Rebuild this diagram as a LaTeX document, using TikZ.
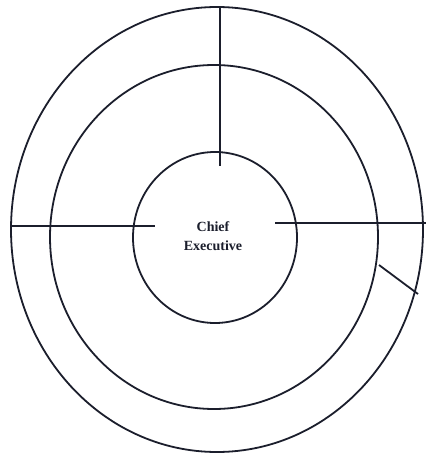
\documentclass[tikz,border=0pt]{standalone}
\usepackage{fontspec}
\setmainfont{Liberation Serif}
\usetikzlibrary{shapes.geometric}
\definecolor{ink}{HTML}{1B1E2C}
\begin{document}
\begin{tikzpicture}[x=1pt,y=-1pt,
  ring/.style={draw=ink, line width=1.8pt, ellipse, inner sep=0pt},
  spoke/.style={draw=ink, line width=1.8pt},
  label/.style={font=\fontsize{14}{19}\selectfont\bfseries, text=ink, align=center, inner sep=0pt}]
\useasboundingbox (0,0) rectangle (426,457);
\fill[white] (0,0) rectangle (426,457);
% rings
\node[ring, minimum width=412pt, minimum height=445pt] (outer) at (217,229.5) {};
\node[ring, minimum width=328pt, minimum height=344pt] (middle) at (214,237) {};
\node[ring, minimum width=164pt, minimum height=171pt] (inner) at (215,237.5) {};
% label
\node[label] (ce) at (213,236) {Chief\\Executive};
% spoke end points
\coordinate (vtop) at (220,7);
\coordinate (vbot) at (220,166);
\coordinate (lout) at (12,226);
\coordinate (lin) at (155,226);
\coordinate (rin) at (275,223);
\coordinate (rout) at (426,223);
\coordinate (sa) at (379,265);
\coordinate (sb) at (418,294);
% spokes
\draw[spoke] (vtop) -- (vbot);
\draw[spoke] (lout) -- (lin);
\draw[spoke] (rin) -- (rout);
\draw[spoke] (sa) -- (sb);
\end{tikzpicture}
\end{document}
